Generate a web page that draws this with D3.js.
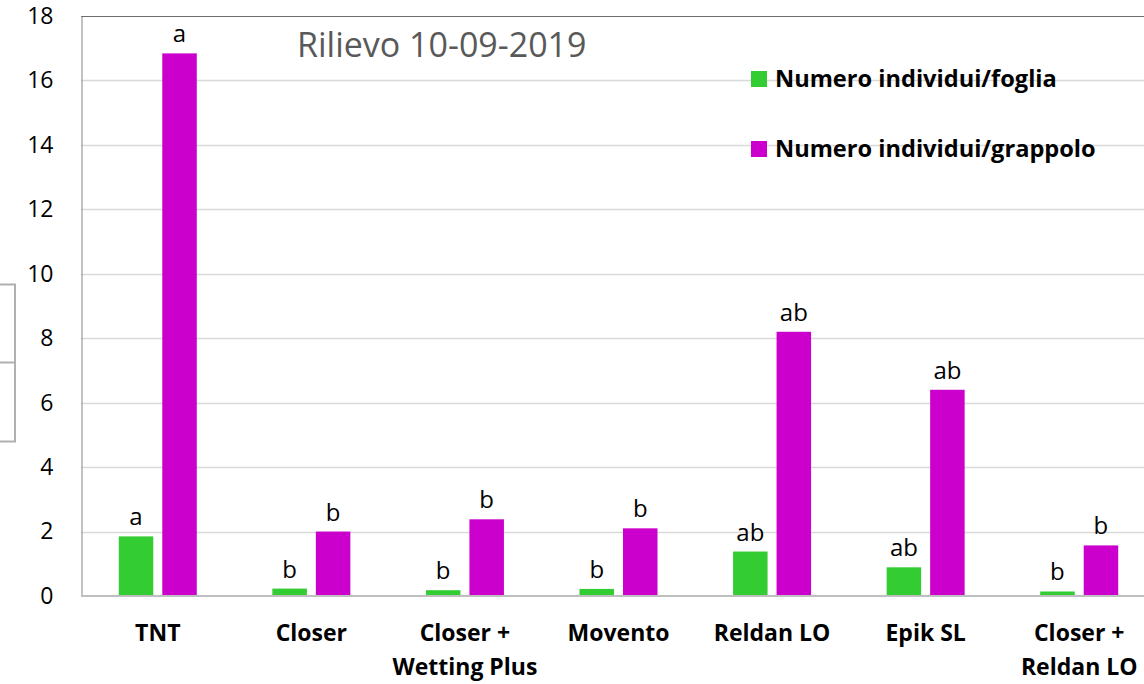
<!DOCTYPE html>
<html>
<head>
<meta charset="utf-8">
<script src="https://cdn.jsdelivr.net/npm/d3@7/dist/d3.min.js"></script>
<style>
  body { margin: 0; background: #fff; }
  svg { display: block; font-family: "Open Sans", sans-serif; }
</style>
</head>
<body>
<svg id="chart" width="1144" height="684"></svg>
<script>
// Data
const categories = ["TNT", "Closer", "Closer +|Wetting Plus", "Movento", "Reldan LO", "Epik SL", "Closer +|Reldan LO"];
const seriesNames = ["Numero individui/foglia", "Numero individui/grappolo"];
const foglia = [1.85, 0.23, 0.18, 0.22, 1.38, 0.89, 0.14];
const grappolo = [16.84, 2.0, 2.38, 2.1, 8.2, 6.4, 1.57];
const lettersFoglia = ["a", "b", "b", "b", "ab", "ab", "b"];
const lettersGrappolo = ["a", "b", "b", "b", "ab", "ab", "b"];
const yTicks = [0, 2, 4, 6, 8, 10, 12, 14, 16, 18];

const colors = ["#33cc33", "#cc00cc"];

const svg = d3.select("#chart");
const plotLeft = 81, plotRight = 1156, plotTop = 16, plotBottom = 596;

const x = d3.scaleBand().domain(categories).range([plotLeft, plotRight]).paddingInner(0).paddingOuter(0);
const y = d3.scaleLinear().domain([0, 18]).range([plotBottom, plotTop]);

const barW = 34.5, gap = 9;

// Gridlines
svg.append("g")
  .selectAll("line")
  .data(yTicks.filter(d => d > 0 && d < 18))
  .join("line")
  .attr("x1", plotLeft).attr("x2", 1144)
  .attr("y1", d => Math.round(y(d)) + 0.5).attr("y2", d => Math.round(y(d)) + 0.5)
  .attr("stroke", "#d9d9d9").attr("stroke-width", 1.3);

// Top border
svg.append("line")
  .attr("x1", plotLeft).attr("x2", 1144).attr("y1", plotTop + 0.5).attr("y2", plotTop + 0.5)
  .attr("stroke", "#6e6e6e").attr("stroke-width", 1);

// Y axis
const yAxis = svg.append("g")
  .attr("transform", `translate(${plotLeft + 0.5},0)`)
  .call(d3.axisLeft(y).tickValues(yTicks).tickSize(0).tickPadding(28));
yAxis.select(".domain").attr("stroke", "#868686").attr("stroke-width", 1);
yAxis.selectAll("text").attr("font-size", 23).attr("fill", "#000")
  .attr("font-family", "Open Sans, sans-serif");

// Bars
const groups = svg.append("g").selectAll("g")
  .data(categories)
  .join("g")
  .attr("transform", d => `translate(${x(d) + x.bandwidth() / 2},0)`);

groups.append("rect")
  .attr("x", -barW - gap / 2)
  .attr("y", (d, i) => y(foglia[i]))
  .attr("width", barW)
  .attr("height", (d, i) => y(0) - y(foglia[i]))
  .attr("fill", colors[0]);

groups.append("rect")
  .attr("x", gap / 2)
  .attr("y", (d, i) => y(grappolo[i]))
  .attr("width", barW)
  .attr("height", (d, i) => y(0) - y(grappolo[i]))
  .attr("fill", colors[1]);

// Letters
groups.append("text")
  .attr("x", -barW / 2 - gap / 2)
  .attr("y", (d, i) => y(foglia[i]) - 11)
  .attr("text-anchor", "middle")
  .attr("font-size", 24)
  .text((d, i) => lettersFoglia[i]);

groups.append("text")
  .attr("x", barW / 2 + gap / 2)
  .attr("y", (d, i) => y(grappolo[i]) - 11)
  .attr("text-anchor", "middle")
  .attr("font-size", 24)
  .text((d, i) => lettersGrappolo[i]);

// Baseline
svg.append("line")
  .attr("x1", plotLeft).attr("x2", 1144).attr("y1", plotBottom).attr("y2", plotBottom)
  .attr("stroke", "#bfbfbf").attr("stroke-width", 2);

// Category labels
groups.append("text")
  .attr("text-anchor", "middle")
  .attr("font-size", 23)
  .attr("font-weight", "bold")
  .each(function(d) {
    const lines = d.split("|");
    d3.select(this).selectAll("tspan")
      .data(lines)
      .join("tspan")
      .attr("x", 0)
      .attr("y", (l, j) => 641 + j * 34)
      .text(l => l);
  });

// Title
svg.append("text")
  .attr("x", 297).attr("y", 57)
  .attr("font-family", "Open Sans, sans-serif")
  .attr("font-size", 34)
  .attr("fill", "#595959")
  .text("Rilievo 10-09-2019");

// Legend
const legend = svg.append("g").selectAll("g")
  .data(seriesNames)
  .join("g")
  .attr("transform", (d, i) => `translate(751,${71 + i * 70})`);
legend.append("rect").attr("width", 16).attr("height", 16).attr("fill", (d, i) => colors[i]);
legend.append("text")
  .attr("x", 24).attr("y", 16)
  .attr("font-size", 23.6).attr("font-weight", "bold")
  .text(d => d);

// Stray box at left edge
svg.append("rect")
  .attr("x", -5).attr("y", 284.5).attr("width", 20).attr("height", 157)
  .attr("fill", "none").attr("stroke", "#b0b0b0").attr("stroke-width", 2);
svg.append("line")
  .attr("x1", 0).attr("x2", 15).attr("y1", 362.5).attr("y2", 362.5)
  .attr("stroke", "#b0b0b0").attr("stroke-width", 2);
</script>
</body>
</html>
